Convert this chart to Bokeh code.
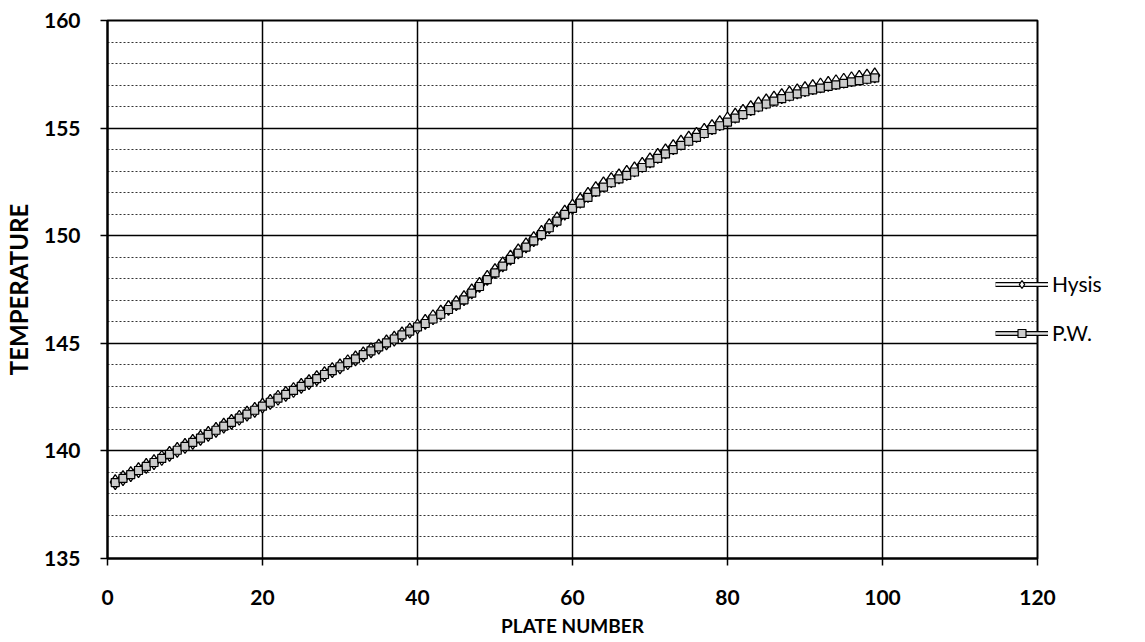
from bokeh.plotting import figure
from bokeh.models import Range1d, FixedTicker, Legend, LegendItem
from bokeh.embed import file_html
from bokeh.resources import INLINE

# ---- data ----
plates = list(range(1, 100))

hysis = [
    138.55, 138.74, 138.92, 139.11, 139.30, 139.48, 139.67, 139.86, 140.05, 140.23,
    140.42, 140.61, 140.79, 140.98, 141.17, 141.35, 141.54, 141.73, 141.91, 142.10,
    142.28, 142.47, 142.65, 142.83, 143.02, 143.20, 143.38, 143.57, 143.75, 143.93,
    144.12, 144.30, 144.49, 144.67, 144.85, 145.04, 145.22, 145.41, 145.59, 145.78,
    146.00, 146.21, 146.43, 146.65, 146.87, 147.10, 147.41, 147.72, 148.04, 148.35,
    148.67, 148.98, 149.27, 149.55, 149.84, 150.13, 150.45, 150.76, 151.07, 151.35,
    151.63, 151.90, 152.16, 152.38, 152.58, 152.76, 152.92, 153.08, 153.29, 153.50,
    153.71, 153.92, 154.12, 154.32, 154.51, 154.69, 154.87, 155.05, 155.23, 155.40,
    155.58, 155.75, 155.93, 156.10, 156.24, 156.37, 156.49, 156.60, 156.71, 156.81,
    156.90, 156.98, 157.06, 157.13, 157.20, 157.27, 157.33, 157.39, 157.45,
]

pw = [
    138.53, 138.72, 138.90, 139.09, 139.28, 139.46, 139.65, 139.84, 140.03, 140.21,
    140.40, 140.59, 140.77, 140.96, 141.15, 141.33, 141.52, 141.71, 141.89, 142.08,
    142.26, 142.45, 142.63, 142.81, 143.00, 143.18, 143.36, 143.55, 143.73, 143.91,
    144.10, 144.28, 144.47, 144.65, 144.83, 145.02, 145.20, 145.39, 145.57, 145.76,
    145.92, 146.13, 146.35, 146.57, 146.79, 147.02, 147.33, 147.64, 147.96, 148.27,
    148.59, 148.90, 149.19, 149.47, 149.76, 150.05, 150.37, 150.68, 150.99, 151.27,
    151.51, 151.78, 152.04, 152.26, 152.46, 152.64, 152.80, 152.96, 153.17, 153.38,
    153.59, 153.80, 154.00, 154.20, 154.39, 154.57, 154.75, 154.93, 155.11, 155.28,
    155.46, 155.63, 155.81, 155.98, 156.12, 156.25, 156.37, 156.48, 156.59, 156.69,
    156.78, 156.86, 156.94, 157.01, 157.08, 157.15, 157.21, 157.27, 157.33,
]

x_ticks = [0, 20, 40, 60, 80, 100, 120]
y_ticks = [135, 140, 145, 150, 155, 160]
y_minor = list(range(135, 161))

FONT = "Lato"

p = figure(frame_width=930, frame_height=538, output_backend="svg", toolbar_location=None,
           x_range=Range1d(0, 120), y_range=Range1d(135, 160),
           min_border_left=107, min_border_right=0,
           min_border_top=20, min_border_bottom=84)
p.background_fill_color = "white"
p.border_fill_color = "white"
p.outline_line_color = "black"
p.outline_line_width = 2

# axes
p.xaxis.ticker = FixedTicker(ticks=x_ticks)
p.yaxis.ticker = FixedTicker(ticks=y_ticks, minor_ticks=y_minor)
for ax in (p.xaxis[0], p.yaxis[0]):
    ax.axis_line_color = "black"
    ax.axis_line_width = 2
    ax.major_tick_line_color = "black"
    ax.major_tick_line_width = 1.5
    ax.major_tick_out = 7
    ax.major_tick_in = 0
    ax.minor_tick_line_color = None
    ax.major_label_text_font = FONT
    ax.major_label_text_font_size = "21px"
    ax.major_label_text_font_style = "bold"
    ax.major_label_text_color = "black"
    ax.axis_label_text_font = FONT
    ax.axis_label_text_font_style = "bold"
    ax.axis_label_text_color = "black"

p.xaxis.axis_label = "PLATE NUMBER"
p.yaxis.axis_label = "TEMPERATURE"
p.xaxis.axis_label_text_font_size = "19px"
p.yaxis.axis_label_text_font_size = "24px"
p.xaxis.major_label_standoff = 24
p.xaxis.axis_label_standoff = 6
p.yaxis.major_label_standoff = 20
p.yaxis.axis_label_standoff = 8

# grids
p.xgrid.grid_line_color = "black"
p.xgrid.grid_line_width = 1.5
p.ygrid.grid_line_color = "black"
p.ygrid.grid_line_width = 1.5
p.ygrid.minor_grid_line_color = "#333333"
p.ygrid.minor_grid_line_dash = "2 2"
p.ygrid.minor_grid_line_width = 1

# series: Hysis
h_outer = p.line(plates, hysis, line_color="black", line_width=5)
h_inner = p.line(plates, hysis, line_color="white", line_width=2.5)
h_mark = p.scatter(plates, hysis, marker="diamond", size=15, fill_color="white",
                   line_color="black", line_width=1.3)

# series: P.W.
w_outer = p.line(plates, pw, line_color="black", line_width=5)
w_inner = p.line(plates, pw, line_color="#dddddd", line_width=2.5)
w_mark = p.scatter(plates, pw, marker="square", size=8, fill_color="#cccccc",
                   line_color="black", line_width=1.2)

legend = Legend(items=[
    LegendItem(label="Hysis", renderers=[h_outer, h_inner, h_mark]),
    LegendItem(label="P.W.", renderers=[w_outer, w_inner, w_mark]),
], location=(-42, 213))
legend.background_fill_alpha = 0
legend.border_line_color = None
legend.margin = 0
legend.padding = 0
legend.spacing = 24
legend.glyph_width = 53
legend.glyph_height = 20
legend.label_standoff = 4
legend.label_text_font = FONT
legend.label_text_font_size = "21px"
legend.label_text_color = "black"
p.add_layout(legend, "right")

open("out.html", "w").write(file_html(p, INLINE))
